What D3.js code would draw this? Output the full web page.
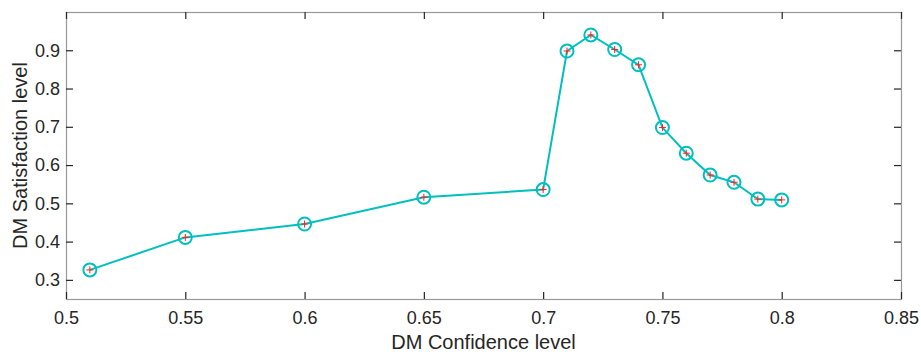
<!DOCTYPE html>
<html>
<head>
<meta charset="utf-8">
<script src="https://cdn.jsdelivr.net/npm/d3@7"></script>
<style>
  body { margin: 0; background: #fff; }
  text { font-family: "Liberation Sans", Arial, sans-serif; fill: #262626; }
</style>
</head>
<body>
<script>
// data
const confidence = [0.51, 0.55, 0.6, 0.65, 0.7, 0.71, 0.72, 0.73, 0.74, 0.75, 0.76, 0.77, 0.78, 0.79, 0.8];
const satisfaction = [0.326, 0.411, 0.446, 0.516, 0.536, 0.898, 0.940, 0.902, 0.862, 0.698, 0.631, 0.574, 0.555, 0.511, 0.509];
const xTicks = [0.5, 0.55, 0.6, 0.65, 0.7, 0.75, 0.8, 0.85];
const yTicks = [0.3, 0.4, 0.5, 0.6, 0.7, 0.8, 0.9];

const width = 921, height = 352;
const margin = { top: 12, right: 20, bottom: 53, left: 66 };
const w = width - margin.left - margin.right;
const h = height - margin.top - margin.bottom;

const svg = d3.select("body").append("svg")
  .attr("width", width)
  .attr("height", height);

const g = svg.append("g")
  .attr("transform", `translate(${margin.left},${margin.top})`);

const x = d3.scaleLinear().domain([0.5, 0.85]).range([0, w]);
const y = d3.scaleLinear().domain([0.25, 1.0]).range([h, 0]);

// box
g.append("rect")
  .attr("x", 0.5).attr("y", 0.5)
  .attr("width", w).attr("height", h)
  .attr("fill", "none")
  .attr("stroke", "#999")
  .attr("stroke-width", 1.2);

// inward ticks (matlab style, mirrored on top/right)
const tickLen = 7;
const fmt = d => String(+d.toFixed(2));

const xAxis = g.append("g").attr("transform", `translate(0,${h})`)
  .call(d3.axisBottom(x).tickValues(xTicks).tickSize(-tickLen).tickPadding(12.5).tickFormat(fmt));
const xTop = g.append("g")
  .call(d3.axisTop(x).tickValues(xTicks).tickSize(-tickLen).tickFormat(""));
const yAxis = g.append("g")
  .call(d3.axisLeft(y).tickValues(yTicks).tickSize(-tickLen).tickPadding(6).tickFormat(fmt));
const yRight = g.append("g").attr("transform", `translate(${w},0)`)
  .call(d3.axisRight(y).tickValues(yTicks).tickSize(-tickLen).tickFormat(""));

[xAxis, xTop, yAxis, yRight].forEach(a => {
  a.select(".domain").remove();
  a.selectAll(".tick line").attr("stroke", "#262626").attr("stroke-width", 1.2);
  a.selectAll(".tick text").attr("font-size", 18).attr("fill", "#262626")
    .style("font-family", "'Liberation Sans', Arial, sans-serif");
});

// axis labels
svg.append("text")
  .attr("x", margin.left + w / 2)
  .attr("y", 349)
  .attr("text-anchor", "middle")
  .attr("font-size", 20)
  .text("DM Confidence level");

svg.append("text")
  .attr("transform", `translate(27,${margin.top + h / 2}) rotate(-90)`)
  .attr("text-anchor", "middle")
  .attr("font-size", 20)
  .text("DM Satisfaction level");

const pts = confidence.map((c, i) => [c, satisfaction[i]]);

const line = d3.line().x(d => x(d[0])).y(d => y(d[1]));

g.append("path")
  .datum(pts)
  .attr("d", line)
  .attr("fill", "none")
  .attr("stroke", "#00bfbf")
  .attr("stroke-width", 2);

g.selectAll(".ring").data(pts).enter().append("circle")
  .attr("class", "ring")
  .attr("cx", d => x(d[0]))
  .attr("cy", d => y(d[1]))
  .attr("r", 6.5)
  .attr("fill", "none")
  .attr("stroke", "#00bfbf")
  .attr("stroke-width", 2);

const plus = g.selectAll(".plus").data(pts).enter().append("g")
  .attr("class", "plus")
  .attr("transform", d => `translate(${x(d[0])},${y(d[1])})`);
plus.append("line").attr("x1", -3.5).attr("x2", 3.5).attr("y1", 0).attr("y2", 0)
  .attr("stroke", "#ff2020").attr("stroke-width", 1);
plus.append("line").attr("x1", 0).attr("x2", 0).attr("y1", -3.5).attr("y2", 3.5)
  .attr("stroke", "#ff2020").attr("stroke-width", 1);
</script>
</body>
</html>
